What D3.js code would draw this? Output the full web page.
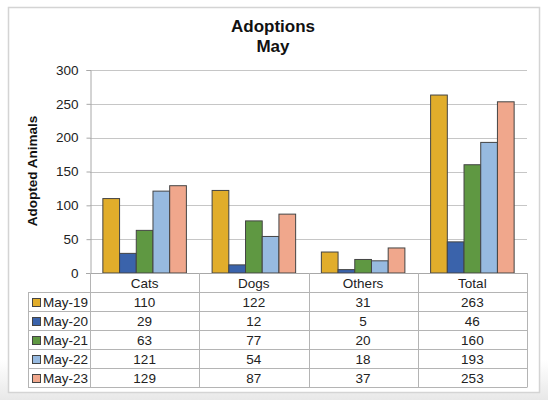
<!DOCTYPE html>
<html><head><meta charset="utf-8">
<script src="https://cdn.jsdelivr.net/npm/d3@7"></script>
<style>
html,body{margin:0;padding:0;background:#fff;}
svg{display:block;font-family:"Liberation Sans",Arial,sans-serif;}
</style></head>
<body><svg id="c" width="548" height="400"></svg>
<script>
const categories = ["Cats","Dogs","Others","Total"];
const seriesNames = ["May-19","May-20","May-21","May-22","May-23"];
const may19 = [110,122,31,263];
const may20 = [29,12,5,46];
const may21 = [63,77,20,160];
const may22 = [121,54,18,193];
const may23 = [129,87,37,253];
const seriesValues = [may19,may20,may21,may22,may23];
const colors = ["#E1AD2B","#3A63AB","#5F9842","#97BAE0","#F0A78C"];
const yTicks = [0,50,100,150,200,250,300];

const svg = d3.select("#c");
const defs = svg.append("defs");
const g1 = defs.append("linearGradient").attr("id","bg").attr("x1",0).attr("y1",0).attr("x2",0).attr("y2",1);
g1.append("stop").attr("offset","0").attr("stop-color","#ffffff");
g1.append("stop").attr("offset","0.9").attr("stop-color","#ffffff");
g1.append("stop").attr("offset","1").attr("stop-color","#e8e8e8");
svg.append("rect").attr("width",548).attr("height",400).attr("fill","url(#bg)");
// frame
svg.append("rect").attr("x",8.5).attr("y",7.5).attr("width",531).attr("height",385)
  .attr("fill","#fff").attr("stroke","#d4d4d4").attr("stroke-width",1.5);

const L=90, R=527, T=70, B=273;
const x = d3.scaleBand().domain(categories).range([L,R]).paddingInner(0).paddingOuter(0);
const inner = d3.scaleBand().domain(seriesNames).range([0,x.bandwidth()]).paddingOuter(0.77).paddingInner(0);
const y = d3.scaleLinear().domain([0,300]).range([B,T]);

// gridlines
svg.append("g").selectAll("line").data(yTicks.filter(d=>d>0)).join("line")
  .attr("x1",L).attr("x2",R).attr("y1",d=>Math.round(y(d))+0.5).attr("y2",d=>Math.round(y(d))+0.5)
  .attr("stroke","#c6c6c6").attr("stroke-width",1);

// y axis
const ya = svg.append("g").attr("transform",`translate(${L+0.5},0)`)
  .call(d3.axisLeft(y).tickValues(yTicks).tickSize(4).tickPadding(8));
ya.select(".domain").attr("stroke","#a8a8a8");
ya.selectAll(".tick line").attr("stroke","#a8a8a8");
ya.selectAll(".tick text").attr("font-size",13.5).attr("fill","#222").attr("font-family","Liberation Sans, Arial, sans-serif");

// bars
const grp = svg.append("g").selectAll("g").data(seriesNames).join("g");
grp.each(function(s,si){
  d3.select(this).selectAll("rect").data(seriesValues[si]).join("rect")
    .attr("x",(d,i)=>x(categories[i])+inner(s))
    .attr("y",d=>y(d))
    .attr("width",inner.bandwidth())
    .attr("height",d=>B-y(d))
    .attr("fill",colors[si])
    .attr("stroke","#444").attr("stroke-width",1);
});

// x axis line
svg.append("line").attr("x1",L-4).attr("x2",R).attr("y1",B+0.5).attr("y2",B+0.5).attr("stroke","#a8a8a8");

// data table
const rowH = 19;
const tableLeft = 28;
const tbl = svg.append("g");
const lineC = "#b4b4b4";
// vertical lines for category columns
const colEdges = categories.map(c=>x(c)).concat([R]);
tbl.selectAll("line.v").data(colEdges).join("line")
  .attr("x1",d=>Math.round(d)+0.5).attr("x2",d=>Math.round(d)+0.5)
  .attr("y1",B).attr("y2",B+rowH*6).attr("stroke",lineC);
// left border
tbl.append("line").attr("x1",tableLeft+0.5).attr("x2",tableLeft+0.5).attr("y1",B+rowH).attr("y2",B+rowH*6).attr("stroke",lineC);
// horizontal lines
d3.range(1,7).forEach(k=>{
  tbl.append("line").attr("x1",tableLeft).attr("x2",R+0.5)
    .attr("y1",B+rowH*k+0.5).attr("y2",B+rowH*k+0.5).attr("stroke",lineC);
});
// header labels
tbl.selectAll("text.h").data(categories).join("text")
  .attr("x",d=>x(d)+x.bandwidth()/2).attr("y",B+rowH-4.5)
  .attr("text-anchor","middle").attr("font-size",13.5).attr("fill","#222").text(d=>d);
// rows
seriesNames.forEach((s,si)=>{
  const yy = B+rowH*(si+1);
  tbl.append("rect").attr("x",32.5).attr("y",yy+6.5).attr("width",8).attr("height",8)
    .attr("fill",colors[si]).attr("stroke","#444").attr("stroke-width",1);
  tbl.append("text").attr("x",43).attr("y",yy+rowH-4.5).attr("font-size",13.5).attr("fill","#222").text(s);
  tbl.selectAll(null).data(seriesValues[si]).join("text")
    .attr("x",(d,i)=>x(categories[i])+x.bandwidth()/2).attr("y",yy+rowH-4.5)
    .attr("text-anchor","middle").attr("font-size",13.5).attr("fill","#222").text(d=>d);
});

// title
svg.append("text").attr("x",273).attr("y",32).attr("text-anchor","middle")
  .attr("font-size",17).attr("font-weight","bold").attr("fill","#111").text("Adoptions");
svg.append("text").attr("x",273).attr("y",52).attr("text-anchor","middle")
  .attr("font-size",17).attr("font-weight","bold").attr("fill","#111").text("May");
// y label
svg.append("text").attr("transform","translate(37,171) rotate(-90)").attr("text-anchor","middle")
  .attr("font-size",13.5).attr("font-weight","bold").attr("fill","#111").text("Adopted Animals");
</script></body></html>
